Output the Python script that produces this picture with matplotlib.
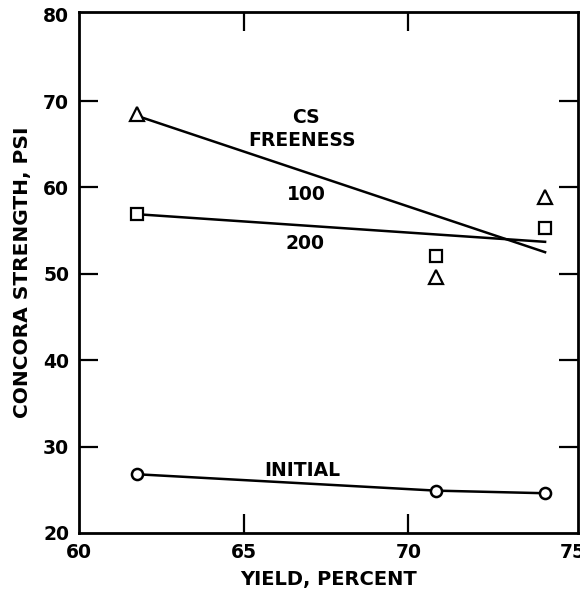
import matplotlib
matplotlib.use("Agg")
import matplotlib.pyplot as plt

# data
yield_pct = [61.75, 70.85, 74.15]
cs100 = [68.5, 49.6, 58.9]
cs200 = [56.9, 52.1, 55.3]
initial = [26.8, 24.9, 24.6]

# fitted lines (end points)
fit_x = [61.75, 74.15]
fit100 = [68.3, 52.5]
fit200 = [56.9, 53.7]

plt.rcParams['font.family'] = 'DejaVu Sans'
plt.rcParams['font.weight'] = 'bold'

fig = plt.figure(figsize=(5.8, 5.92), dpi=100)
ax = fig.add_axes([0.136, 0.0997, 0.8606, 0.880])

ax.plot(fit_x, fit100, color='black', lw=1.8)
ax.plot(fit_x, fit200, color='black', lw=1.8)
ax.plot(yield_pct, initial, color='black', lw=1.8, marker='o', ms=8,
        mfc='white', mec='black', mew=1.8)
ax.plot(yield_pct, cs100, ls='none', marker='^', ms=10, mfc='white',
        mec='black', mew=1.6)
ax.plot(yield_pct, cs200, ls='none', marker='s', ms=8.5, mfc='white',
        mec='black', mew=1.6)

fs = 13.5
ax.text(66.89, 68.1, 'CS', ha='center', va='center', fontsize=fs, fontweight='bold')
ax.text(66.77, 65.4, 'FREENESS', ha='center', va='center', fontsize=fs, fontweight='bold')
ax.text(66.89, 59.2, '100', ha='center', va='center', fontsize=fs, fontweight='bold')
ax.text(66.86, 53.5, '200', ha='center', va='center', fontsize=fs, fontweight='bold')
ax.text(66.77, 27.2, 'INITIAL', ha='center', va='center', fontsize=fs, fontweight='bold')

ax.set_xlim(60, 75.15)
ax.set_ylim(20, 80.3)
ax.set_xticks([60, 65, 70, 75])
ax.set_yticks([20, 30, 40, 50, 60, 70, 80])
ax.tick_params(direction='in', length=14, width=1.6, labelsize=13.5,
               top=True, right=True, pad=7)
for lab in ax.get_xticklabels() + ax.get_yticklabels():
    lab.set_fontweight('bold')
# no tick marks in the corners
for axis in (ax.xaxis, ax.yaxis):
    ticks = axis.get_major_ticks()
    for t in (ticks[0], ticks[-1]):
        t.tick1line.set_visible(False)
        t.tick2line.set_visible(False)
for s in ax.spines.values():
    s.set_linewidth(2)

ax.set_xlabel('YIELD, PERCENT', fontsize=14, fontweight='bold', labelpad=6)
ax.set_ylabel('CONCORA STRENGTH, PSI', fontsize=14.5, fontweight='bold', labelpad=8)

fig.savefig('out.png', dpi=100)
